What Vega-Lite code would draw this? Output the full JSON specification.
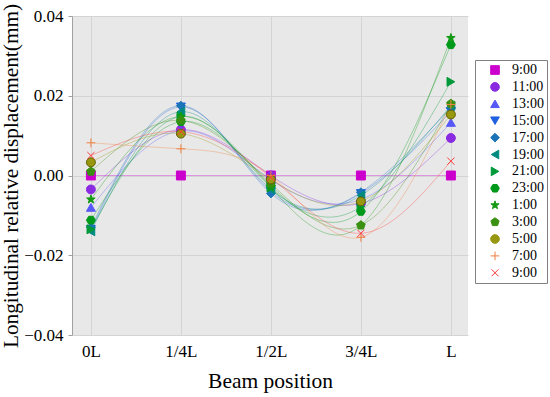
{
  "$schema": "https://vega.github.io/schema/vega-lite/v6.json",
  "width": 396,
  "height": 319,
  "autosize": {"type": "none"},
  "padding": {"left": 72, "top": 16, "right": 82, "bottom": 62},
  "background": "white",
  "config": {
    "view": {"fill": "#E8E8E8", "stroke": null},
    "font": "Liberation Serif",
    "axis": {"labelFont": "Liberation Serif", "titleFont": "Liberation Serif", "labelColor": "black", "titleColor": "black", "titleFontWeight": "normal", "gridColor": "#D4D4D4", "gridWidth": 1},
    "legend": {"labelFont": "Liberation Serif", "labelColor": "black", "symbolOpacity": 1}
  },
  "data": {"values": [
    {"s": "9:00", "p": 0, "v": 0}, {"s": "9:00", "p": 1, "v": 0}, {"s": "9:00", "p": 2, "v": 0}, {"s": "9:00", "p": 3, "v": 0}, {"s": "9:00", "p": 4, "v": 0},
    {"s": "11:00", "p": 0, "v": -0.0035}, {"s": "11:00", "p": 1, "v": 0.0115}, {"s": "11:00", "p": 2, "v": 0.0}, {"s": "11:00", "p": 3, "v": -0.007}, {"s": "11:00", "p": 4, "v": 0.0094},
    {"s": "13:00", "p": 0, "v": -0.008}, {"s": "13:00", "p": 1, "v": 0.0112}, {"s": "13:00", "p": 2, "v": -0.001}, {"s": "13:00", "p": 3, "v": -0.006}, {"s": "13:00", "p": 4, "v": 0.0133},
    {"s": "15:00", "p": 0, "v": -0.0135}, {"s": "15:00", "p": 1, "v": 0.0172}, {"s": "15:00", "p": 2, "v": -0.004}, {"s": "15:00", "p": 3, "v": -0.0045}, {"s": "15:00", "p": 4, "v": 0.016},
    {"s": "17:00", "p": 0, "v": -0.013}, {"s": "17:00", "p": 1, "v": 0.0175}, {"s": "17:00", "p": 2, "v": -0.0045}, {"s": "17:00", "p": 3, "v": -0.0042}, {"s": "17:00", "p": 4, "v": 0.017},
    {"s": "19:00", "p": 0, "v": -0.014}, {"s": "19:00", "p": 1, "v": 0.016}, {"s": "19:00", "p": 2, "v": -0.0035}, {"s": "19:00", "p": 3, "v": -0.005}, {"s": "19:00", "p": 4, "v": 0.0175},
    {"s": "21:00", "p": 0, "v": -0.0135}, {"s": "21:00", "p": 1, "v": 0.0148}, {"s": "21:00", "p": 2, "v": -0.003}, {"s": "21:00", "p": 3, "v": -0.0078}, {"s": "21:00", "p": 4, "v": 0.0235},
    {"s": "23:00", "p": 0, "v": -0.0112}, {"s": "23:00", "p": 1, "v": 0.0135}, {"s": "23:00", "p": 2, "v": -0.0025}, {"s": "23:00", "p": 3, "v": -0.009}, {"s": "23:00", "p": 4, "v": 0.0328},
    {"s": "1:00", "p": 0, "v": -0.006}, {"s": "1:00", "p": 1, "v": 0.0148}, {"s": "1:00", "p": 2, "v": -0.003}, {"s": "1:00", "p": 3, "v": -0.0125}, {"s": "1:00", "p": 4, "v": 0.0345},
    {"s": "3:00", "p": 0, "v": 0.001}, {"s": "3:00", "p": 1, "v": 0.0138}, {"s": "3:00", "p": 2, "v": -0.002}, {"s": "3:00", "p": 3, "v": -0.0125}, {"s": "3:00", "p": 4, "v": 0.018},
    {"s": "5:00", "p": 0, "v": 0.0033}, {"s": "5:00", "p": 1, "v": 0.0105}, {"s": "5:00", "p": 2, "v": -0.001}, {"s": "5:00", "p": 3, "v": -0.0065}, {"s": "5:00", "p": 4, "v": 0.0153},
    {"s": "7:00", "p": 0, "v": 0.0082}, {"s": "7:00", "p": 1, "v": 0.0067}, {"s": "7:00", "p": 2, "v": 0.0}, {"s": "7:00", "p": 3, "v": -0.0155}, {"s": "7:00", "p": 4, "v": 0.0178},
    {"s": "9:00 ", "p": 0, "v": 0.005}, {"s": "9:00 ", "p": 1, "v": 0.011}, {"s": "9:00 ", "p": 2, "v": -0.0005}, {"s": "9:00 ", "p": 3, "v": -0.0145}, {"s": "9:00 ", "p": 4, "v": 0.0036}
  ]},
  "encoding": {
    "x": {"field": "p", "type": "quantitative", "scale": {"domain": [-0.21, 4.19], "nice": false, "zero": false},
      "axis": {"values": [0, 1, 2, 3, 4], "labelExpr": "['0L','1/4L','1/2L','3/4L','L'][datum.value]", "title": "Beam position", "titleFontSize": 21.5, "labelFontSize": 17, "domain": false, "ticks": false, "labelPadding": 8, "titlePadding": 11}},
    "y": {"field": "v", "type": "quantitative", "scale": {"domain": [-0.04, 0.04], "nice": false},
      "axis": {"values": [-0.04, -0.02, 0, 0.02, 0.04], "format": ".2f", "title": "Longitudinal relative displacement(mm)", "titleFontSize": 21.3, "labelFontSize": 17, "domain": true, "domainColor": "#A0A0A0", "tickColor": "#A0A0A0", "tickSize": 4, "labelPadding": 5, "titlePadding": 2}}
  },
  "layer": [
    {
      "mark": {"type": "line", "interpolate": "natural", "strokeWidth": 0.9, "opacity": 0.4},
      "encoding": {
        "color": {"field": "s", "type": "nominal",
          "scale": {"domain": ["9:00","11:00","13:00","15:00","17:00","19:00","21:00","23:00","1:00","3:00","5:00","7:00","9:00 "],
            "range": ["#CC00CC","#8A2BE2","#5858F8","#1F60E0","#1C74B8","#008B80","#009A3A","#009A1A","#129A12","#3A9010","#989810","#F08040","#FF3A3A"]}}
      }
    },
    {
      "mark": {"type": "point", "filled": true, "size": 80, "strokeWidth": 1, "opacity": 1},
      "encoding": {
        "color": {"field": "s", "type": "nominal",
          "legend": {"title": null, "orient": "none", "legendX": 403, "legendY": 44, "strokeColor": "#808080", "fillColor": "white", "padding": 3, "labelFontSize": 14, "symbolSize": 75, "rowPadding": 2.9, "symbolOffset": 10, "labelOffset": 10, "symbolStrokeWidth": 1, "symbolOpacity": 1}},
        "stroke": {"field": "s", "type": "nominal",
          "scale": {"domain": ["9:00","11:00","13:00","15:00","17:00","19:00","21:00","23:00","1:00","3:00","5:00","7:00","9:00 "],
            "range": ["#CC00CC","#8A2BE2","#5858F8","#1F60E0","#1C74B8","#008B80","#009A3A","#009A1A","#129A12","#3A9010","#5F5F00","#F08040","#FF3A3A"]},
          "legend": {"title": null, "orient": "none", "legendX": 403, "legendY": 44, "strokeColor": "#808080", "fillColor": "white", "padding": 3, "labelFontSize": 14, "symbolSize": 75, "rowPadding": 2.9, "symbolOffset": 10, "labelOffset": 10, "symbolStrokeWidth": 1, "symbolOpacity": 1}},
        "shape": {"field": "s", "type": "nominal",
          "scale": {"domain": ["9:00","11:00","13:00","15:00","17:00","19:00","21:00","23:00","1:00","3:00","5:00","7:00","9:00 "],
            "range": ["square","circle","triangle-up","triangle-down","diamond","triangle-left","triangle-right",
              "M1,0L0.5,0.866L-0.5,0.866L-1,0L-0.5,-0.866L0.5,-0.866Z",
              "M0,-1L0.235,-0.324L0.951,-0.309L0.380,0.124L0.588,0.809L0,0.4L-0.588,0.809L-0.380,0.124L-0.951,-0.309L-0.235,-0.324Z",
              "M0,-1L0.951,-0.309L0.588,0.809L-0.588,0.809L-0.951,-0.309Z",
              "circle",
              "M-1,0L1,0M0,-1L0,1",
              "M-0.8,-0.8L0.8,0.8M-0.8,0.8L0.8,-0.8"]},
          "legend": {"title": null, "orient": "none", "legendX": 403, "legendY": 44, "strokeColor": "#808080", "fillColor": "white", "padding": 3, "labelFontSize": 14, "symbolSize": 75, "rowPadding": 2.9, "symbolOffset": 10, "labelOffset": 10, "symbolStrokeWidth": 1, "symbolOpacity": 1}}
      }
    }
  ]
}
